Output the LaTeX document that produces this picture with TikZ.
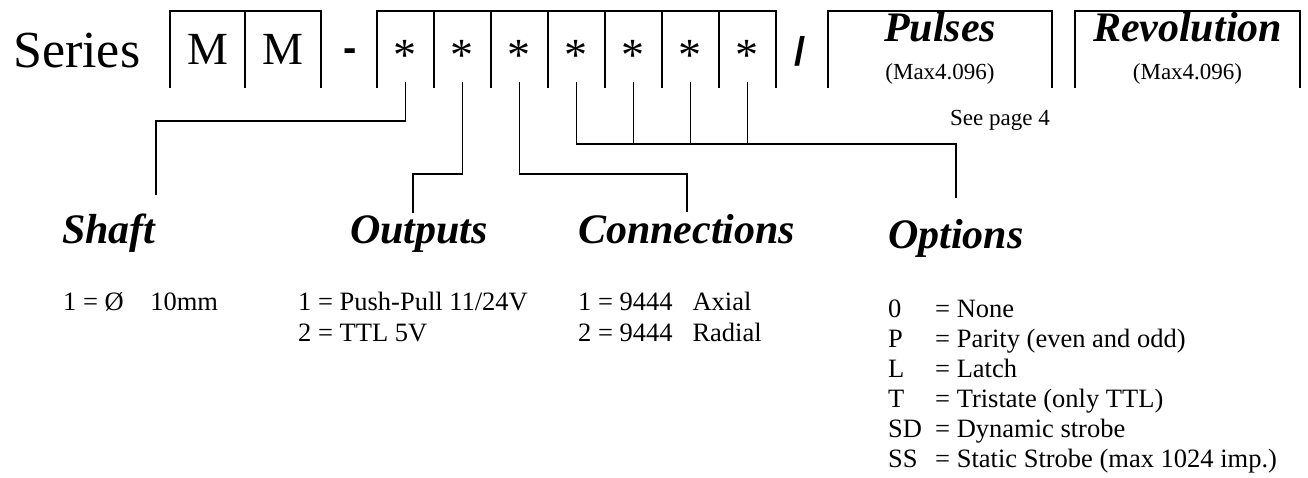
\documentclass[tikz,border=0pt]{standalone}
\usepackage{fontspec}
\setmainfont{Liberation Serif}
\setsansfont{Liberation Sans}
\usepackage{tikz}
\usetikzlibrary{positioning}
\newcommand\codestar{\smash{\raisebox{-20.5pt}{*}}}

\begin{document}
\begin{tikzpicture}[x=1pt, y=-1pt,
    txt/.style={inner sep=0pt, anchor=base west},
    big/.style={txt, font=\fontsize{52}{58}\selectfont},
    sign/.style={inner sep=0pt, anchor=base, font=\fontsize{40}{44}\selectfont\sffamily\bfseries},
    cell/.style={inner sep=0pt, minimum height=77pt, font=\fontsize{46}{50}\selectfont},
    mcell/.style={cell, minimum width=75pt},
    starcell/.style={cell, minimum width=56.6pt},
    slot/.style={inner sep=0pt, minimum height=77pt},
    head/.style={txt, font=\fontsize{42}{48}\selectfont\bfseries\itshape},
    item/.style={txt, font=\fontsize{26.5}{30}\selectfont},
    note/.style={inner sep=0pt, anchor=base, font=\fontsize{23}{27}\selectfont},
    frame/.style={line width=2pt},
    wire/.style={line width=1.6pt}
  ]
  \useasboundingbox (0,0) rectangle (1308,477);
  % code row
  \node[big] (series) at (13,67) {Series};
  \node[mcell] (m1) at (207.5,49.5) {M};
  \node[mcell, right=0pt of m1] (m2) {M};
  \node[sign] (dash) at (350,61) {-};
  \node[starcell] (s1) at (405.3,49.5) {\codestar};
  \node[starcell, right=0pt of s1] (s2) {\codestar};
  \node[starcell, right=0pt of s2] (s3) {\codestar};
  \node[starcell, right=0pt of s3] (s4) {\codestar};
  \node[starcell, right=0pt of s4] (s5) {\codestar};
  \node[starcell, right=0pt of s5] (s6) {\codestar};
  \node[starcell, right=0pt of s6] (s7) {\codestar};
  \node[sign] (slash) at (800,65) {/};
  \node[slot, minimum width=224pt] (pbox) at (940,49.5) {};
  \node[slot, minimum width=225pt] (rbox) at (1187.5,49.5) {};
  \node[head, anchor=base] (pulses) at (940,41) {Pulses};
  \node[note] (pmax) at (940,79) {(Max4.096)};
  \node[head, anchor=base] (revolution) at (1187.5,41) {Revolution};
  \node[note] (rmax) at (1187.5,79) {(Max4.096)};
  \node[note, anchor=base east] (seepage) at (1050,125) {See page 4};
  % open frames
  \draw[frame] (m1.south west) |- (m2.north east) -- (m2.south east);
  \draw[frame] (m1.north east) -- (m1.south east);
  \draw[frame] (s1.south west) |- (s7.north east) -- (s7.south east);
  \foreach \i in {1,...,6}
    \draw[frame] (s\i.north east) -- (s\i.south east);
  \draw[frame] (pbox.south west) |- (pbox.north east) -- (pbox.south east);
  \draw[frame] (rbox.south west) |- (rbox.north east) -- (rbox.south east);
  % headings
  \node[head] (shaft) at (62,243) {Shaft};
  \node[head] (outputs) at (350,243) {Outputs};
  \node[head] (connections) at (578,243) {Connections};
  \node[head] (options) at (888,248) {Options};
  % leader lines
  \draw[wire] ([yshift=6pt]s1.south) -- ++(0,39) -| ([yshift=18pt]shaft.north east);
  \draw[wire] ([yshift=6pt]s2.south) -- ++(0,92) -| ([xshift=-6pt, yshift=2pt]outputs.north);
  \draw[wire] ([yshift=6pt]s3.south) -- ++(0,92) -| ([yshift=2pt]connections.north);
  \draw[wire] ([yshift=6pt]s4.south) -- ++(0,62) -| ([yshift=21pt]options.north);
  \foreach \i in {5,6,7}
    \draw[wire] ([yshift=6pt]s\i.south) -- ++(0,62);
  % codes
  \node[item] (sh1) at (63,310) {1 = Ø\quad 10mm};
  \node[item] (ou1) at (298,310) {1 = Push-Pull 11/24V};
  \node[item] (ou2) at (298,341) {2 = TTL 5V};
  \node[item] (co1) at (578,310) {1 = 9444\hspace{0.75em}Axial};
  \node[item] (co2) at (578,341) {2 = 9444\hspace{0.75em}Radial};
  \foreach \k/\v [count=\n from 0] in {0/None, P/Parity (even and odd), L/Latch,
      T/Tristate (only TTL), SD/Dynamic strobe, SS/Static Strobe (max 1024 imp.)} {
    \node[item] (ok\n) at (888,{317+30*\n}) {\k};
    \node[item] (ov\n) at (935,{317+30*\n}) {= \v};
  }
\end{tikzpicture}
\end{document}
